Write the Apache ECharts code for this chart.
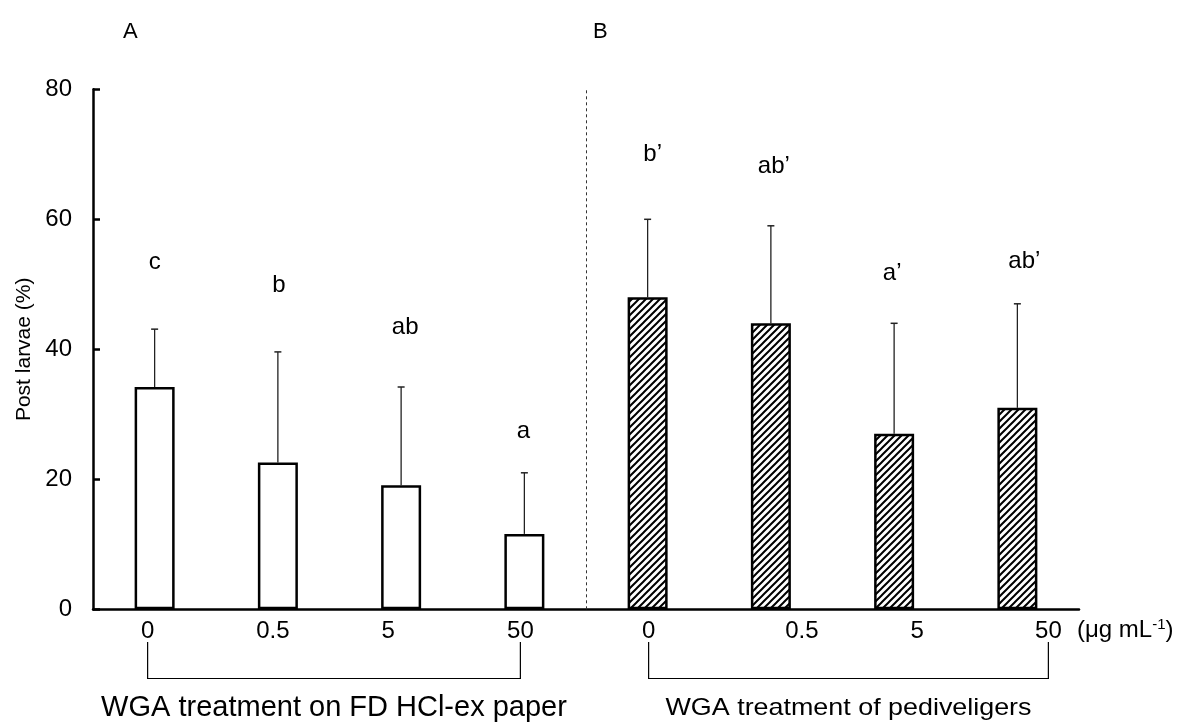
<!DOCTYPE html>
<html><head><meta charset="utf-8">
<script src="https://cdn.jsdelivr.net/npm/echarts@6/dist/echarts.min.js"></script>
<style>html,body{margin:0;padding:0;background:#fff}#c{width:1183px;height:722px}</style>
</head><body><div id="c"></div>
<script>
// ---------------- data ----------------
const doseLabels = ['0', '0.5', '5', '50'];
const panelAMeans = [34.2, 22.6, 19.1, 11.6];
const panelASD = [8.9, 17.0, 15.1, 9.4];
const panelBMeans = [48.0, 44.0, 27.0, 31.0];
const panelBSD = [12.0, 15.0, 17.0, 16.0];
const panelALetters = ['c', 'b', 'ab', 'a'];
const panelBLetters = ['b’', 'ab’', 'a’', 'ab’'];
const panelALetterY = [53.4, 49.9, 43.3, 27.3];
const panelBLetterY = [70.0, 68.1, 51.7, 53.5];
const yTicks = [0, 20, 40, 60, 80];
const panelNames = ['A', 'B'];
const groupNames = ['WGA treatment on FD HCl-ex paper', 'WGA treatment of pediveligers'];
const unitText = 'μg mL';

// ---------------- style ----------------
const FONT = '"Liberation Sans", Arial, sans-serif';
const labelShift = [-7, -5, -13, -4, 1, 31, 23, 31]; // horizontal nudges of tick labels (px)
const letterShift = [0, 1, 4, -1, 5, 3, -2, 7];       // horizontal nudges of letter labels (px)
const captionFont = [29, 24];
const captionScaleX = [1, 1.12];

const means = panelAMeans.concat(panelBMeans);
const sds = panelASD.concat(panelBSD);
const letters = panelALetters.concat(panelBLetters);
const letterY = panelALetterY.concat(panelBLetterY);
const cats = doseLabels.map(d => 'A:' + d).concat(doseLabels.map(d => 'B:' + d));

function hatch() {
  const s = 7, c = document.createElement('canvas');
  c.width = s; c.height = s;
  const g = c.getContext('2d');
  g.fillStyle = '#fff'; g.fillRect(0, 0, s, s);
  g.strokeStyle = '#000'; g.lineWidth = 2;
  g.beginPath();
  g.moveTo(-1, s + 1); g.lineTo(s + 1, -1);
  g.moveTo(-1, 1); g.lineTo(1, -1);
  g.moveTo(s - 1, s + 1); g.lineTo(s + 1, s - 1);
  g.stroke();
  return c;
}
const hatchPattern = { image: hatch(), repeat: 'repeat' };

const rich = {};
labelShift.forEach((s, i) => {
  rich['s' + i] = { fontSize: 24, fontFamily: FONT, color: '#000',
    padding: s >= 0 ? [0, 0, 0, 2 * s] : [0, -2 * s, 0, 0] };
});

const chart = echarts.init(document.getElementById('c'));
chart.setOption({
  animation: false,
  backgroundColor: '#fff',
  textStyle: { fontFamily: FONT },
  title: [
    { text: panelNames[0], left: 118, top: 16, textStyle: { fontSize: 22, fontWeight: 'normal', color: '#000', fontFamily: FONT } },
    { text: panelNames[1], left: 588, top: 16, textStyle: { fontSize: 22, fontWeight: 'normal', color: '#000', fontFamily: FONT } }
  ],
  grid: { left: 93, right: 104, top: 89.3, bottom: 112.7, containLabel: false },
  xAxis: [{
    type: 'category', data: cats, boundaryGap: true,
    axisLine: { lineStyle: { color: '#000', width: 2.5 } },
    axisTick: { show: false },
    axisLabel: {
      margin: 10, interval: 0,
      formatter: (v, i) => '{s' + i + '|' + v.split(':')[1] + '}',
      rich: rich
    },
    splitLine: { show: false }
  }, {
    type: 'value', min: 0, max: 8, show: false
  }],
  yAxis: {
    type: 'value', min: yTicks[0], max: yTicks[yTicks.length - 1], interval: 20,
    name: 'Post larvae (%)', nameLocation: 'middle', nameGap: 55,
    nameTextStyle: { fontSize: 21, color: '#000', fontFamily: FONT },
    axisLine: { show: true, lineStyle: { color: '#000', width: 2.5 } },
    axisTick: { show: true, inside: true, length: 7, lineStyle: { color: '#000', width: 2.5 } },
    axisLabel: { fontSize: 24, color: '#000', margin: 21, fontFamily: FONT },
    splitLine: { show: false }
  },
  series: [{
    type: 'bar',
    barWidth: 40,
    data: means.map((v, i) => ({ value: v, itemStyle: { color: i < 4 ? '#fff' : hatchPattern } })),
    itemStyle: { borderColor: '#000', borderWidth: 2.5 },
    z: 3
  }, {
    type: 'custom',
    data: means.map((v, i) => [i, v, v + sds[i]]),
    encode: { x: 0, y: [1, 2] },
    z: 2,
    renderItem: (params, api) => {
      const x = api.value(0);
      const p0 = api.coord([x, api.value(1)]);
      const p1 = api.coord([x, api.value(2)]);
      const hw = 3.5;
      return { type: 'group', children: [
        { type: 'line', shape: { x1: p0[0], y1: p0[1], x2: p1[0], y2: p1[1] }, style: { stroke: '#222', lineWidth: 1.3 } },
        { type: 'line', shape: { x1: p1[0] - hw, y1: p1[1], x2: p1[0] + hw, y2: p1[1] }, style: { stroke: '#222', lineWidth: 1.5 } }
      ] };
    }
  }, {
    type: 'custom',
    data: letterY.map((y, i) => [i, y]),
    encode: { x: 0, y: 1 },
    z: 4,
    renderItem: (params, api) => {
      const i = params.dataIndex;
      const p = api.coord([api.value(0), api.value(1)]);
      return { type: 'text', x: p[0] + letterShift[i], y: p[1], style: {
        text: letters[i], fill: '#000', font: '24px ' + FONT, align: 'center', verticalAlign: 'middle' } };
    }
  }, {
    type: 'line', xAxisIndex: 1, yAxisIndex: 0, data: [], silent: true,
    markLine: {
      silent: true, symbol: ['none', 'none'], label: { show: false },
      lineStyle: { type: [3, 3], color: '#333', width: 1 },
      data: [{ xAxis: 4 }]
    }
  }]
});

// brackets and group captions, positioned from the category axis
function px(i) { return chart.convertToPixel({ xAxisIndex: 0 }, i) + labelShift[i]; }
const graphics = [];
[[0, 3], [4, 7]].forEach((g, k) => {
  const x1 = px(g[0]), x2 = px(g[1]);
  graphics.push({ type: 'polyline', shape: { points: [[x1, 642], [x1, 678.5], [x2, 678.5], [x2, 642]] },
    style: { stroke: '#000', lineWidth: 1.2, fill: null } });
  graphics.push({ type: 'text', x: (x1 + x2) / 2, y: 708, scaleX: captionScaleX[k], style: {
    text: groupNames[k], font: captionFont[k] + 'px ' + FONT, fill: '#000', align: 'center', verticalAlign: 'middle' } });
});
const axisEnd = chart.convertToPixel({ xAxisIndex: 1 }, 8);
graphics.push({ type: 'text', x: axisEnd - 2, y: 630, style: {
  text: '{a|(' + unitText + '}{b|-1}{a|)}', align: 'left', verticalAlign: 'middle',
  rich: { a: { font: '24px ' + FONT, fill: '#000' }, b: { font: '15px ' + FONT, fill: '#000', padding: [0, 0, 11, 0] } } } });
chart.setOption({ graphic: graphics });
</script></body></html>
